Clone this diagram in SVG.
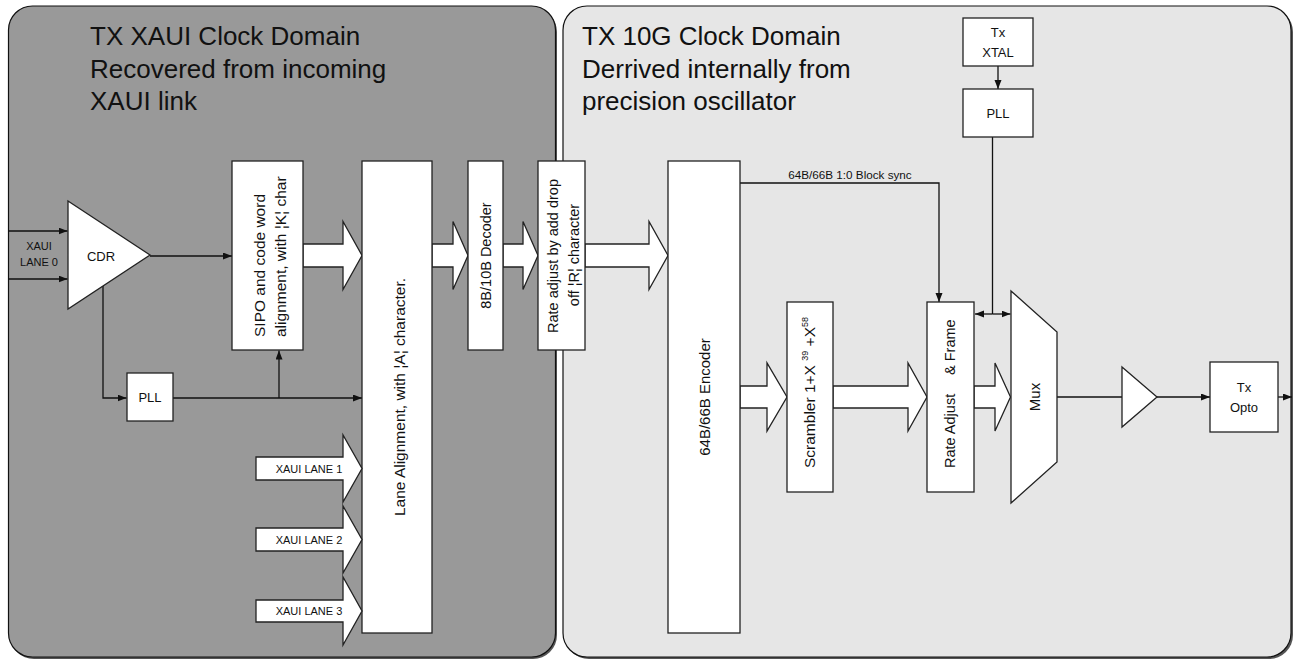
<svg xmlns="http://www.w3.org/2000/svg" width="1294" height="659" viewBox="0 0 1294 659">
<defs>
<style>
text{font-family:"Liberation Sans",Arial,sans-serif;fill:#111}
.box{fill:#fff;stroke:#222;stroke-width:1.3}
.big{fill:#fff;stroke:#222;stroke-width:1.3;stroke-linejoin:miter}
.ln{fill:none;stroke:#111;stroke-width:1.3}
.title{font-size:26px}
.t13{font-size:13px}
.t11{font-size:11px}
.r15{font-size:15.5px}
.r14{font-size:14.5px}
.lbl{font-size:11.7px}
</style>
<marker id="ah" markerUnits="userSpaceOnUse" markerWidth="10" markerHeight="8" refX="9" refY="3.5" orient="auto">
<path d="M0,0 L9,3.5 L0,7 z" fill="#111"/>
</marker>
</defs>

<g id="panels">
<rect x="10" y="8" width="547" height="651" rx="24" fill="#555"/>
<rect x="8.5" y="6" width="547" height="651" rx="24" fill="#999" stroke="#111" stroke-width="1.2"/>
<rect x="565" y="8" width="728" height="651" rx="24" fill="#555"/>
<rect x="563" y="6" width="728" height="651" rx="24" fill="#e6e6e6" stroke="#111" stroke-width="1.2"/>
<text class="title" x="90" y="45">TX XAUI Clock Domain</text>
<text class="title" x="90" y="77.5">Recovered from incoming</text>
<text class="title" x="90" y="110">XAUI link</text>
<text class="title" x="582" y="45">TX 10G Clock Domain</text>
<text class="title" x="582" y="77.5">Derrived internally from</text>
<text class="title" x="582" y="110">precision oscillator</text>
</g>

<g id="connectors">
<path class="ln" d="M8,231 H67.5" marker-end="url(#ah)"/>
<path class="ln" d="M8,279 H67.5" marker-end="url(#ah)"/>
<path class="ln" d="M150,256 H232" marker-end="url(#ah)"/>
<path class="ln" d="M103,286 V398 H126.5" marker-end="url(#ah)"/>
<path class="ln" d="M173,398 H362" marker-end="url(#ah)"/>
<path class="ln" d="M279,398 V350.5" marker-end="url(#ah)"/>
<path class="ln" d="M740,183 H939 V302" marker-end="url(#ah)"/>
<text class="lbl" x="850" y="179" text-anchor="middle">64B/66B 1:0  Block sync</text>
<path class="ln" d="M998,66 V89" marker-end="url(#ah)"/>
<path class="ln" d="M992.5,137 V314"/>
<path class="ln" d="M992.5,314 H975" marker-end="url(#ah)"/>
<path class="ln" d="M992.5,314 H1010.5" marker-end="url(#ah)"/>
<path class="ln" d="M1057,397 H1122"/>
<path class="ln" d="M1157,397 H1210" marker-end="url(#ah)"/>
<path class="ln" d="M1278,397 H1292" marker-end="url(#ah)"/>
<polygon class="big" points="303,244 343,244 343,221.5 362,255.5 343,289.5 343,267 303,267"/>
<polygon class="big" points="432,244 453,244 453,221.5 468,255.5 453,289.5 453,267 432,267"/>
<polygon class="big" points="503,244 523,244 523,221.5 538,255.5 523,289.5 523,267 503,267"/>
<polygon class="big" points="585,244 649,244 649,221.5 668,255.5 649,289.5 649,267 585,267"/>
<polygon class="big" points="740,386 767,386 767,363 787,397 767,431 767,408 740,408"/>
<polygon class="big" points="833,386 908,386 908,363 927,397 908,431 908,408 833,408"/>
<polygon class="big" points="974,386 995,386 995,363 1010.5,397 995,431 995,408 974,408"/>
</g>

<g id="lane0-label">
<text class="t11" x="39" y="250" text-anchor="middle">XAUI</text>
<text class="t11" x="39" y="266" text-anchor="middle">LANE 0</text>
</g>

<g id="cdr">
<polygon class="box" points="68,201 150,255 68,309"/>
<text class="t13" x="101" y="260.5" text-anchor="middle">CDR</text>
</g>

<g id="pll-rx">
<rect class="box" x="127" y="373" width="46" height="48"/>
<text class="t13" x="150" y="402" text-anchor="middle">PLL</text>
</g>

<g id="sipo">
<rect class="box" x="232" y="161" width="71" height="189"/>
<text class="r15" transform="translate(265,337) rotate(-90)">SIPO and code word</text>
<text class="r15" transform="translate(286,337) rotate(-90)">alignment, with ¦K¦ char</text>
</g>

<g id="lane-align">
<rect class="box" x="362" y="161" width="70" height="472"/>
<text class="r15" transform="translate(405,397) rotate(-90)" text-anchor="middle">Lane Alignment, with ¦A¦ character.</text>
</g>

<g id="lane1">
<polygon class="big" points="256,457 343,457 343,435 362,468.5 343,502 343,480 256,480"/>
<text class="t11" x="309" y="472.5" text-anchor="middle">XAUI LANE 1</text>
</g>
<g id="lane2">
<polygon class="big" points="256,528 343,528 343,506 362,539.5 343,573 343,551 256,551"/>
<text class="t11" x="309" y="543.5" text-anchor="middle">XAUI LANE 2</text>
</g>
<g id="lane3">
<polygon class="big" points="256,600 343,600 343,577 362,611 343,645 343,622 256,622"/>
<text class="t11" x="309" y="615" text-anchor="middle">XAUI LANE 3</text>
</g>

<g id="decoder">
<rect class="box" x="468" y="161" width="35" height="189"/>
<text class="r14" transform="translate(491,255.5) rotate(-90)" text-anchor="middle">8B/10B Decoder</text>
</g>

<g id="rate-adjust-rx">
<rect class="box" x="538" y="161" width="47" height="189"/>
<text class="r14" transform="translate(558,256) rotate(-90)" text-anchor="middle">Rate adjust by add drop</text>
<text class="r14" transform="translate(579,255) rotate(-90)" text-anchor="middle">off ¦R¦ character</text>
</g>

<g id="encoder">
<rect class="box" x="668" y="161" width="72" height="472"/>
<text class="r15" style="font-size:15px" transform="translate(710,397) rotate(-90)" text-anchor="middle">64B/66B Encoder</text>
</g>

<g id="scrambler">
<rect class="box" x="787" y="302" width="46" height="190"/>
<text class="r15" transform="translate(815,468) rotate(-90)">Scrambler 1+X <tspan font-size="9" dy="-7">39</tspan><tspan dy="7"> +X</tspan><tspan font-size="9" dy="-7">58</tspan></text>
</g>

<g id="rate-adjust-frame">
<rect class="box" x="927" y="302" width="47" height="190"/>
<text class="r14" transform="translate(955,468) rotate(-90)">Rate Adjust</text>
<text class="r14" transform="translate(955,375) rotate(-90)">&amp; Frame</text>
</g>

<g id="tx-xtal">
<rect class="box" x="963" y="18" width="70" height="48"/>
<text class="t13" x="998" y="37" text-anchor="middle">Tx</text>
<text class="t13" x="998" y="57" text-anchor="middle">XTAL</text>
</g>

<g id="pll-tx">
<rect class="box" x="963" y="89" width="70" height="48"/>
<text class="t13" x="998" y="118" text-anchor="middle">PLL</text>
</g>

<g id="mux">
<polygon class="box" points="1011,291 1057,332 1057,462 1011,503"/>
<text class="r15" style="font-size:15px" transform="translate(1040,397) rotate(-90)" text-anchor="middle">Mux</text>
</g>

<g id="driver">
<polygon class="box" points="1122,367 1157,397 1122,427"/>
</g>

<g id="tx-opto">
<rect class="box" x="1210" y="362" width="68" height="70"/>
<text class="t13" x="1244" y="391.5" text-anchor="middle">Tx</text>
<text class="t13" x="1244" y="411.5" text-anchor="middle">Opto</text>
</g>
</svg>
